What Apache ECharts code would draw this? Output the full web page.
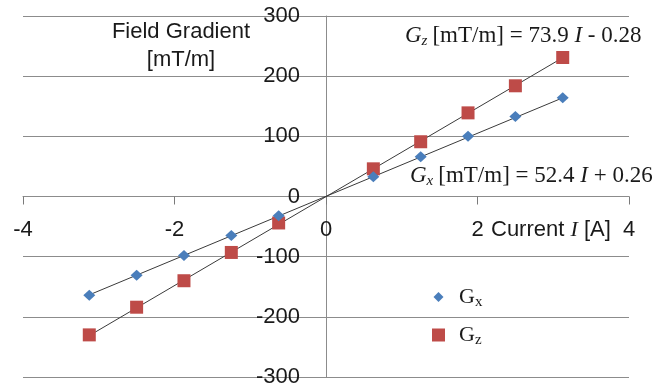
<!DOCTYPE html>
<html>
<head>
<meta charset="utf-8">
<script src="https://cdn.jsdelivr.net/npm/echarts@6/dist/echarts.min.js"></script>
<style>
  html, body { margin: 0; padding: 0; background: #fff; }
  #main { width: 668px; height: 387px; }
</style>
</head>
<body>
<div id="main"></div>
<script>
// current values (A)
var current = [-3.125, -2.5, -1.875, -1.25, -0.625, 0.625, 1.25, 1.875, 2.5, 3.125];
// measured field gradients (mT/m)
var gx = [-164, -131, -98, -65, -32, 33, 66, 100, 133, 164];
var gz = [-230, -184, -140, -93, -44, 46, 91, 139, 184, 231];
// linear trend line end points
var fitX = [-3.125, 3.125];
var gxFit = [-163.5, 164.0];
var gzFit = [-231.2, 230.7];
var xTicks = [-4, -2, 0, 2, 4];
var yTicks = [-300, -200, -100, 0, 100, 200, 300];

function pairs(xs, ys) {
    return xs.map(function (v, i) { return [v, ys[i]]; });
}

var sans = 'Arial, "Liberation Sans", sans-serif';
var serif = '"Times New Roman", "Liberation Serif", serif';
var gridColor = '#8c8c8c';
var ink = '#1a1a1a';

// plot box
var gLeft = 23, gRight = 39, gTop = 16, gBottom = 10;
var plotW = 668 - gLeft - gRight;
var plotH = 387 - gTop - gBottom;

var eqRich = {
    g: { fontFamily: serif, fontStyle: 'italic', fontSize: 23 },
    s: { fontFamily: serif, fontStyle: 'italic', fontSize: 15, padding: [10, 5, 0, 0] }
};

var myChart = echarts.init(document.getElementById('main'));
var option = {
    animation: false,
    grid: {
        left: gLeft, right: gRight, top: gTop, bottom: gBottom,
        containLabel: false,
        outerBoundsMode: 'none'
    },
    xAxis: {
        type: 'value',
        min: xTicks[0],
        max: xTicks[xTicks.length - 1],
        interval: 2,
        position: 'bottom',
        // move the axis up to y = 0 (middle of the plot)
        offset: -plotH / 2,
        axisLine: { onZero: false, lineStyle: { color: gridColor } },
        axisTick: { show: true, length: 8, lineStyle: { color: '#7a7a7a' } },
        splitLine: { show: false },
        axisLabel: {
            margin: 22,
            fontFamily: sans,
            fontSize: 22,
            color: ink
        }
    },
    yAxis: {
        type: 'value',
        min: yTicks[0],
        max: yTicks[yTicks.length - 1],
        interval: 100,
        position: 'left',
        // move the axis right to x = 0
        offset: -plotW / 2,
        axisLine: { onZero: false, lineStyle: { color: gridColor } },
        axisTick: { show: false },
        splitLine: { show: true, lineStyle: { color: gridColor, width: 1 } },
        axisLabel: {
            margin: 26,
            fontFamily: sans,
            fontSize: 22,
            color: ink
        }
    },
    legend: {
        orient: 'vertical',
        left: 427,
        top: 281,
        itemGap: 14,
        itemWidth: 13,
        itemHeight: 13,
        data: [
            { name: 'Gx', icon: 'path://M0,0M13,13M6.5,1.5L11.5,6.5L6.5,11.5L1.5,6.5Z', itemStyle: { color: '#4a7ebb' } },
            { name: 'Gz', icon: 'rect', itemStyle: { color: '#be4b48' } }
        ],
        formatter: function (name) {
            return '{g|G}{s|' + name.charAt(1) + '}';
        },
        textStyle: {
            padding: [0, 0, 0, 9],
            rich: {
                g: { fontFamily: serif, fontSize: 22, color: ink },
                s: { fontFamily: serif, fontSize: 15, color: ink, padding: [11, 0, 0, 0] }
            }
        }
    },
    graphic: [
        {
            type: 'text',
            style: {
                x: 181, y: 18,
                text: 'Field Gradient\n[mT/m]',
                align: 'center',
                fontFamily: sans,
                fontSize: 22,
                lineHeight: 28,
                fill: ink
            }
        },
        {
            type: 'text',
            style: {
                x: 491, y: 230,
                verticalAlign: 'middle',
                text: 'Current {i|I} [A]',
                fontFamily: sans,
                fontSize: 22,
                fill: ink,
                rich: {
                    i: { fontFamily: serif, fontStyle: 'italic', fontSize: 22 }
                }
            }
        },
        {
            type: 'text',
            style: {
                x: 405, y: 36,
                verticalAlign: 'middle',
                text: '{g|G}{s|z}[mT/m] = 73.9 {g|I} - 0.28',
                fontFamily: serif,
                fontSize: 23,
                fill: ink,
                rich: eqRich
            }
        },
        {
            type: 'text',
            style: {
                x: 410, y: 176,
                verticalAlign: 'middle',
                text: '{g|G}{s|x}[mT/m] = 52.4 {g|I} + 0.26',
                fontFamily: serif,
                fontSize: 23,
                fill: ink,
                rich: eqRich
            }
        }
    ],
    series: [
        {
            name: 'Gx fit',
            type: 'line',
            data: pairs(fitX, gxFit),
            symbol: 'none',
            lineStyle: { color: '#3a3a3a', width: 1 },
            z: 1
        },
        {
            name: 'Gz fit',
            type: 'line',
            data: pairs(fitX, gzFit),
            symbol: 'none',
            lineStyle: { color: '#3a3a3a', width: 1 },
            z: 1
        },
        {
            name: 'Gx',
            type: 'scatter',
            symbol: 'diamond',
            symbolSize: [12, 11],
            itemStyle: { color: '#4a7ebb', opacity: 1 },
            data: pairs(current, gx),
            z: 3
        },
        {
            name: 'Gz',
            type: 'scatter',
            symbol: 'rect',
            symbolSize: 13,
            itemStyle: { color: '#be4b48', opacity: 1 },
            data: pairs(current, gz),
            z: 2
        }
    ]
};
myChart.setOption(option);

window.addEventListener('resize', function () {
    myChart.resize();
});
</script>
</body>
</html>
